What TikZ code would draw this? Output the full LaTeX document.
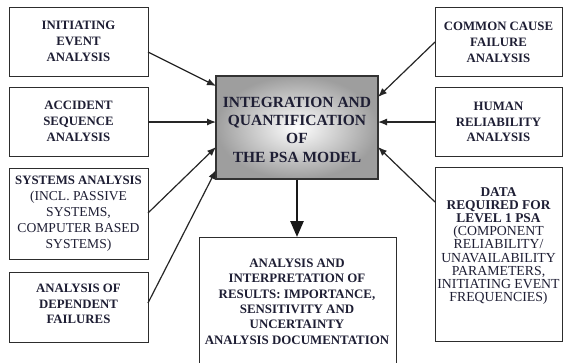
\documentclass[tikz,border=0pt]{standalone}
\usepackage{fontspec}
\setmainfont{Liberation Serif}
\usetikzlibrary{arrows.meta}
\definecolor{txt}{RGB}{30,30,52}
\definecolor{edge}{RGB}{45,45,45}
\newcommand{\regl}{\fontsize{13.6}{16}\selectfont\mdseries}
\newcommand{\regr}{\fontsize{13.8}{13.2}\selectfont\mdseries}
\begin{document}
\begin{tikzpicture}[x=1pt,y=-1pt,
  box/.style={draw=edge, line width=0.9pt, fill=white},
  lbl/.style={align=center, text=txt, font=\fontsize{12.8}{15.8}\selectfont\bfseries, inner sep=0pt},
  conn/.style={draw=black!85, line width=1.2pt, -{Latex[length=9pt,width=7pt]}},
  down/.style={draw=black!90, line width=2.6pt, -{Triangle[length=16pt,width=13pt]}}]
\clip (0,0) rectangle (564,362);
\fill[white] (0,0) rectangle (564,362);
% left boxes
\draw[box] (9,7) rectangle (148,76);
\node[lbl] (l1) at (78.5,41.5) {INITIATING\\EVENT\\ANALYSIS};
\draw[box] (9,87) rectangle (148,156);
\node[lbl] (l2) at (78.5,121.5) {ACCIDENT\\SEQUENCE\\ANALYSIS};
\draw[box] (9,168) rectangle (148,259);
\node[lbl, font=\fontsize{12.8}{16}\selectfont\bfseries] (l3) at (78.5,213.5) {SYSTEMS ANALYSIS\\{\regl(INCL. PASSIVE}\\{\regl SYSTEMS,}\\{\regl COMPUTER BASED}\\{\regl SYSTEMS)}};
\draw[box] (9,272) rectangle (148,342);
\node[lbl] (l4) at (78.5,304) {ANALYSIS OF\\DEPENDENT\\FAILURES};
% right boxes
\draw[box] (435,7) rectangle (562,76);
\node[lbl] (r1) at (498.5,42.5) {COMMON CAUSE\\FAILURE\\ANALYSIS};
\draw[box] (435,87) rectangle (562,156);
\node[lbl] (r2) at (498.5,122) {HUMAN\\RELIABILITY\\ANALYSIS};
\draw[box] (435,167) rectangle (562,341);
\node[lbl, font=\fontsize{13.4}{13.2}\selectfont\bfseries] (r3) at (498.5,246) {DATA\\REQUIRED FOR\\LEVEL 1 PSA\\{\regr(COMPONENT}\\{\regr RELIABILITY/}\\{\regr UNAVAILABILITY}\\{\regr PARAMETERS,}\\{\regr INITIATING EVENT}\\{\regr FREQUENCIES)}};
% central box
\shade[inner color=white, outer color=black!38, draw=black!80, line width=1.2pt]
  (216,76) rectangle (378,179);
\node[lbl, font=\fontsize{15.5}{18.3}\selectfont\bfseries] (c) at (297,129.5) {INTEGRATION AND\\QUANTIFICATION\\OF\\THE PSA MODEL};
% bottom box
\draw[box] (199,237) rectangle (396,380);
\node[lbl, font=\fontsize{12.9}{15.4}\selectfont\bfseries] (b) at (297,301.5) {ANALYSIS AND\\INTERPRETATION OF\\RESULTS: IMPORTANCE,\\SENSITIVITY AND\\UNCERTAINTY\\ANALYSIS DOCUMENTATION};
% anchor coordinates
\coordinate (l1o) at (148,52);
\coordinate (l2o) at (148,122);
\coordinate (l3o) at (148,213);
\coordinate (l4o) at (148,303);
\coordinate (r1o) at (435,42);
\coordinate (r2o) at (435,122);
\coordinate (r3o) at (435,202);
\coordinate (ci1) at (216,86);
\coordinate (ci2) at (216,122);
\coordinate (ci3) at (216,147);
\coordinate (ci4) at (216,170);
\coordinate (co1) at (378,97);
\coordinate (co2) at (378,122);
\coordinate (co3) at (378,147);
\coordinate (cb) at (297,179.6);
\coordinate (bt) at (297,237);
\draw[conn] (l1o) -- (ci1);
\draw[conn] (l2o) -- (ci2);
\draw[conn] (l3o) -- (ci3);
\draw[conn] (l4o) -- (ci4);
\draw[conn] (r1o) -- (co1);
\draw[conn] (r2o) -- (co2);
\draw[conn] (r3o) -- (co3);
\draw[down] (cb) -- (bt);
\end{tikzpicture}
\end{document}
